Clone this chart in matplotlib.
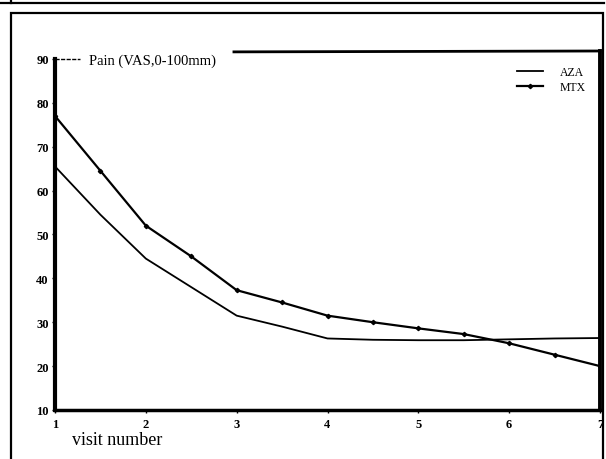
import matplotlib.pyplot as plt
from matplotlib.patches import Rectangle
from matplotlib.lines import Line2D

plt.rcParams['font.family'] = ['Liberation Serif', 'DejaVu Serif']

# pain scores per visit (read at half-visit steps)
visits = [1, 1.5, 2, 2.5, 3, 3.5, 4, 4.5, 5, 5.5, 6, 6.5, 7]
aza = [65.5, 54.5, 44.5, 38.0, 31.5, 29.0, 26.3, 26.0, 25.9, 25.9, 26.1, 26.3, 26.4]
mtx = [77.0, 64.5, 52.0, 45.0, 37.3, 34.5, 31.5, 30.0, 28.6, 27.3, 25.2, 22.6, 20.0]
xticks = [1, 2, 3, 4, 5, 6, 7]
yticks = [10, 20, 30, 40, 50, 60, 70, 80, 90]

W, H = 606, 460
fig = plt.figure(figsize=(W / 100, H / 100), dpi=100)

# scan frame: strip at the top and the outer box
fig.add_artist(Line2D([0, 604 / W], [1 - 4 / H, 1 - 4 / H], color='black', lw=1.6,
                      transform=fig.transFigure))
fig.add_artist(Line2D([11 / W, 11 / W], [1 - 4 / H, 1], color='black', lw=1.6,
                      transform=fig.transFigure))
fig.add_artist(Rectangle((11 / W, -0.01), (603 - 11) / W, 1 - 14 / H + 0.01,
                         fill=False, ec='black', lw=1.6, transform=fig.transFigure))

ax = fig.add_axes([55 / W, 1 - 411 / H, (600 - 55) / W, (411 - 52) / H])
ax.set_xlim(1, 7)
ax.set_ylim(10, 91.8)

ax.plot(visits, aza, color='black', lw=1.3, label='AZA')
ax.plot(visits, mtx, color='black', lw=1.6, marker='D', markersize=2.2, label='MTX')

ax.spines['top'].set_visible(False)
ax.spines['left'].set_bounds(10, 90)
ax.spines['left'].set_linewidth(3)
ax.spines['bottom'].set_linewidth(2.5)
ax.spines['right'].set_linewidth(2.8)

# top edge only on the right part, short stub at 90
ax.plot([2.97, 7], [91.6, 91.8], color='black', lw=2.0, clip_on=False)
ax.plot([1, 1.28], [90, 90], color='black', lw=1.0, ls=(0, (3, 1)), clip_on=False)

ax.set_xticks(xticks)
ax.set_yticks(yticks)
ax.set_xticklabels([str(v) for v in xticks], fontsize=9, fontweight='bold')
ax.set_yticklabels([str(v) for v in yticks], fontsize=9, fontweight='bold')
ax.tick_params(axis='y', direction='out', length=2.5, width=1, pad=2)
ax.tick_params(axis='x', direction='out', length=2.5, width=1, pad=3)
ax.tick_params(right=False, top=False)

ax.text(1.37, 89.6, 'Pain (VAS,0-100mm)', fontsize=10.5, va='center', ha='left')

ax.legend(loc='upper right', bbox_to_anchor=(592 / W, 1 - 61 / H),
          bbox_transform=fig.transFigure, frameon=False, fontsize=8.5,
          handlelength=2.2, handletextpad=1.4, labelspacing=0.3, borderpad=0)

fig.text(72 / W, 1 - 441 / H, 'visit number', fontsize=13, va='center', ha='left')

fig.savefig('out.png', dpi=100)
